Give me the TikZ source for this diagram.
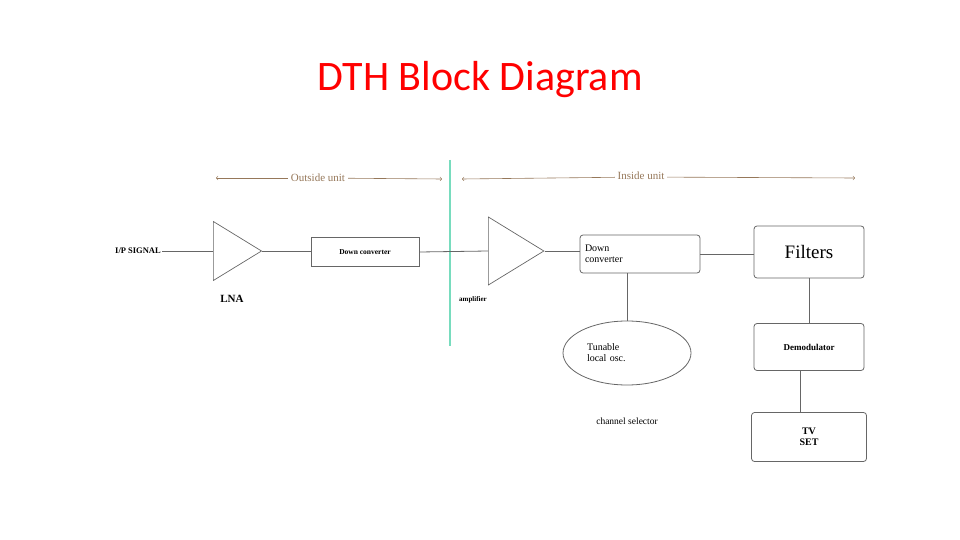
\documentclass[tikz,border=0pt]{standalone}
\usepackage{fontspec}
\setmainfont{Liberation Serif}
\newfontfamily\titlefont{Carlito}
\usetikzlibrary{shapes.geometric}
\definecolor{unitcol}{RGB}{150,120,90}
\definecolor{gline}{RGB}{120,220,190}
\begin{document}
\begin{tikzpicture}[x=1pt,y=-1pt,
  wire/.style={draw=gray!80!black,line width=0.8pt},
  blk/.style={draw=gray!80!black,line width=0.8pt,rounded corners=3pt,inner sep=0pt},
  amp/.style={draw=gray!80!black,line width=0.7pt,isosceles triangle,isosceles triangle apex angle=64,minimum width=60pt,inner sep=0pt,anchor=west},
  unit/.style={text=unitcol,font=\fontsize{11}{12}\selectfont,fill=white,inner sep=3pt}]
\useasboundingbox (0,0) rectangle (960,540);
\node[text=red,font=\titlefont\fontsize{42}{46}\selectfont] (title) at (480,80) {DTH Block Diagram};
% unit arrows
\coordinate (ol) at (216,178); \coordinate (or) at (442,179);
\draw[unitcol,line width=0.6pt,->] (318,178) -- (ol);
\draw[unitcol,line width=0.6pt,->] (318,178) -- (or);
\node[unit] (out) at (318,178) {Outside unit};
\coordinate (il) at (462,179); \coordinate (ir) at (855,178);
\draw[unitcol,line width=0.6pt,->] (641,177) -- (il);
\draw[unitcol,line width=0.6pt,->] (641,177) -- (ir);
\node[unit] (in) at (641,176) {Inside unit};
\coordinate (gt) at (450,160); \coordinate (gb) at (450,346);
\draw[gline,line width=1.2pt] (gt) -- (gb);
% chain
\node[font=\bfseries\fontsize{8.5}{9}\selectfont,anchor=east,inner sep=1pt] (sig) at (162,251) {I/P SIGNAL};
\node[amp,minimum width=59pt,isosceles triangle apex angle=63] (lna) at (213,251) {};
\node[font=\bfseries\fontsize{11}{12}\selectfont] at (232,299) {LNA};
\node[blk,rounded corners=0pt,minimum width=108pt,minimum height=29pt,font=\bfseries\fontsize{7.5}{8}\selectfont] (dc1) at (365,252) {Down converter};
\node[amp,minimum width=68pt,isosceles triangle apex angle=63] (am) at (488,251) {};
\node[font=\bfseries\fontsize{7}{7}\selectfont] at (473,300) {amplifier};
\node[blk,minimum width=120pt,minimum height=38pt,align=left,font=\fontsize{10}{10.5}\selectfont,text width=110pt] (dc2) at (640,254) {Down\\converter};
\node[blk,minimum width=110pt,minimum height=52pt,font=\fontsize{19}{20}\selectfont] (fil) at (809,252) {Filters};
\node[draw=gray!80!black,line width=0.8pt,ellipse,minimum width=128pt,minimum height=64pt,inner sep=0pt,align=left,text width=80pt,font=\fontsize{10}{11}\selectfont] (osc) at (627,353) {Tunable\\local osc.};
\node[font=\fontsize{9.5}{10}\selectfont] (ch) at (627,421) {channel selector};
\node[blk,minimum width=110pt,minimum height=47pt,font=\bfseries\fontsize{9}{9}\selectfont] (dem) at (809,347) {Demodulator};
\node[blk,minimum width=115pt,minimum height=49pt,align=center,font=\bfseries\fontsize{10}{11}\selectfont] (tv) at (809,437) {TV\\SET};
\draw[wire] (sig.east) -- (lna.west);
\draw[wire] (lna.apex) -- (dc1.west|-lna.apex);
\draw[wire] (dc1.east) -- (am.west);
\draw[wire] (am.apex) -- (dc2.west|-am.apex);
\draw[wire] (dc2.east) -- (fil.west|-dc2.east);
\draw[wire] (dc2.south-|osc.north) -- (osc.north);
\draw[wire] (fil.south) -- (dem.north);
\draw[wire] (dem.south-|800,0) -- (tv.north-|800,0);
\end{tikzpicture}
\end{document}
